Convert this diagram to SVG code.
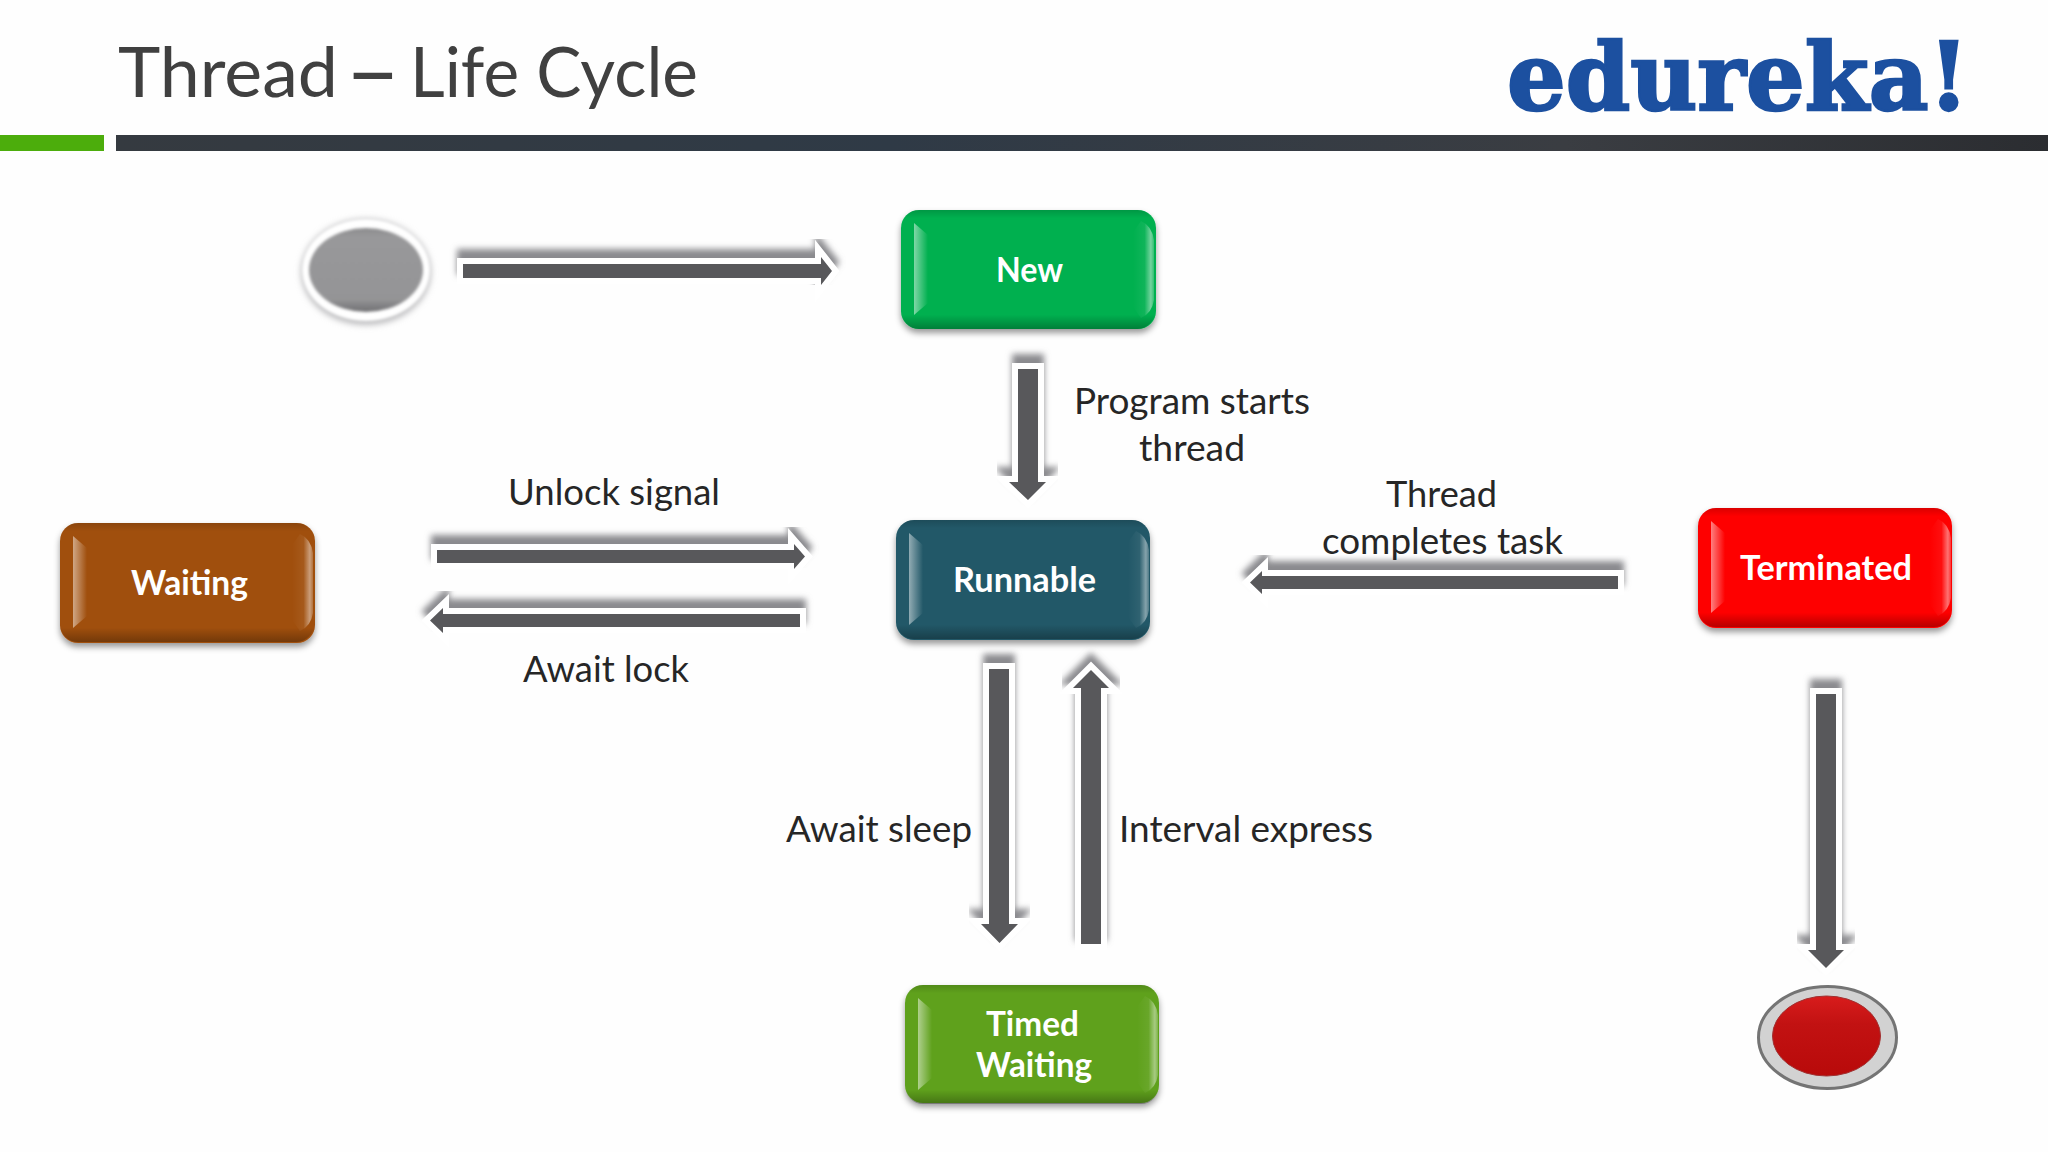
<svg xmlns="http://www.w3.org/2000/svg" width="2048" height="1152" viewBox="0 0 2048 1152">
<style>
.lbl{font-family:"Lato","Liberation Sans",sans-serif;font-size:36px;fill:#262626}
.nd{font-family:"Lato","Liberation Sans",sans-serif;font-size:34px;font-weight:700;fill:#fff}
.logo{font-family:"DejaVu Serif","Liberation Serif",serif;font-weight:700;font-size:94px;fill:#1c50a0;stroke:#1c50a0;stroke-width:2.500px}
.core{fill:#58585b}
.halo{fill:#fff;stroke:#fff;stroke-width:12;stroke-linejoin:miter}
.shade{fill:#8a8a8e;stroke:#8a8a8e;stroke-width:12;stroke-linejoin:miter;filter:url(#blur)}
.box{stroke:none;filter:url(#drop)}
</style>
<defs>
<filter id="blur" x="-30%" y="-30%" width="160%" height="160%"><feGaussianBlur stdDeviation="3"/></filter>
<filter id="soft" x="-30%" y="-30%" width="160%" height="160%"><feGaussianBlur stdDeviation="1.5"/></filter>
<filter id="softer" x="-30%" y="-30%" width="160%" height="160%"><feGaussianBlur stdDeviation="3"/></filter>
<filter id="drop" x="-10%" y="-10%" width="120%" height="130%"><feDropShadow dx="0" dy="4" stdDeviation="3" flood-color="#000" flood-opacity="0.4"/></filter>
<linearGradient id="barG" x1="0" x2="1" y1="0" y2="0"><stop offset="0" stop-color="#353a40"/><stop offset=".4" stop-color="#2f3a46"/><stop offset=".75" stop-color="#3a3d42"/><stop offset="1" stop-color="#2b2d31"/></linearGradient>
<linearGradient id="hlL" x1="0" x2="1" y1="0" y2="0"><stop offset="0" stop-color="#fff" stop-opacity=".5"/><stop offset="1" stop-color="#fff" stop-opacity="0"/></linearGradient>
<linearGradient id="hlR" x1="0" x2="1" y1="0" y2="0"><stop offset="0" stop-color="#fff" stop-opacity="0"/><stop offset=".55" stop-color="#fff" stop-opacity=".06"/><stop offset=".85" stop-color="#fff" stop-opacity=".45"/><stop offset="1" stop-color="#fff" stop-opacity=".2"/></linearGradient>
<linearGradient id="bev" x1="0" x2="0" y1="0" y2="1"><stop offset="0" stop-color="#000" stop-opacity=".14"/><stop offset=".07" stop-color="#000" stop-opacity="0"/><stop offset=".88" stop-color="#000" stop-opacity="0"/><stop offset="1" stop-color="#000" stop-opacity=".28"/></linearGradient>
<linearGradient id="redS" x1="0" x2="0" y1="0" y2="1"><stop offset="0" stop-color="#d81c1c"/><stop offset=".35" stop-color="#c21212"/><stop offset="1" stop-color="#b80a0a"/></linearGradient>
<linearGradient id="grayS" x1="0" x2="0" y1="0" y2="1"><stop offset="0" stop-color="#8a8a8c"/><stop offset=".1" stop-color="#98989a"/><stop offset=".85" stop-color="#949496"/><stop offset="1" stop-color="#6f6f72"/></linearGradient>
<g id="bevel">
<rect width="254" height="119" rx="18" fill="url(#bev)"/>
<path d="M13 13 L27 25 V93 L13 105 Z" fill="url(#hlL)"/>
<path d="M240 11 Q251 16 253 30 V90 Q251 103 240 108 L232 97 V22 Z" fill="url(#hlR)"/>
</g>
<path id="a1" d="M463 264H821V257L832 271L821 285V278H463Z"/>
<path id="a2" d="M1018 369H1038V482H1046L1028 500L1009 482H1018Z"/>
<path id="a3" d="M437 550H794V544L805 556.500L794 569V563H437Z"/>
<path id="a4" d="M800 614H443V608L430 620.500L443 633V627H800Z"/>
<path id="a5" d="M1618 576H1262V571L1250 582.500L1262 594V589H1618Z"/>
<path id="a6" d="M989 669H1009V924H1018L999.500 943L981 924H989Z"/>
<path id="a7" d="M1081 944V688H1073L1091 670L1109 688H1101V944Z"/>
<path id="a8" d="M1816 694H1836V950H1844L1826 968L1808 950H1816Z"/>
</defs>
<rect width="2048" height="1152" fill="#fefefe"/>
<g id="header">
<text y="97" font-family="Lato,'Liberation Sans',sans-serif" font-size="69" fill="#404040"><tspan x="118" textLength="220" lengthAdjust="spacingAndGlyphs">Thread</tspan> <tspan x="345" dy="8" font-size="96">–</tspan> <tspan x="410" dy="-8" textLength="288" lengthAdjust="spacingAndGlyphs">Life Cycle</tspan></text>
<text class="logo" x="1507" y="110" textLength="462" lengthAdjust="spacingAndGlyphs">edureka!</text>
<rect x="0" y="135" width="104" height="16" fill="#4cad0c"/>
<rect x="116" y="135" width="1932" height="16" fill="url(#barG)"/>
</g>
<g id="connectors">
<g id="arrow-start-new"><use href="#a1" class="shade" y="-9"/><use href="#a1" class="halo"/><use href="#a1" class="core"/></g>
<g id="arrow-new-runnable"><use href="#a2" class="shade" y="-9"/><use href="#a2" class="halo"/><use href="#a2" class="core"/></g>
<g id="arrow-waiting-runnable"><use href="#a3" class="shade" y="-9"/><use href="#a3" class="halo"/><use href="#a3" class="core"/></g>
<g id="arrow-runnable-waiting"><use href="#a4" class="shade" y="-9"/><use href="#a4" class="halo"/><use href="#a4" class="core"/></g>
<g id="arrow-terminated-runnable"><use href="#a5" class="shade" y="-9"/><use href="#a5" class="halo"/><use href="#a5" class="core"/></g>
<g id="arrow-runnable-timed"><use href="#a6" class="shade" y="-9"/><use href="#a6" class="halo"/><use href="#a6" class="core"/></g>
<g id="arrow-timed-runnable"><use href="#a7" class="shade" y="-9"/><use href="#a7" class="halo"/><use href="#a7" class="core"/></g>
<g id="arrow-terminated-end"><use href="#a8" class="shade" y="-9"/><use href="#a8" class="halo"/><use href="#a8" class="core"/></g>
</g>
<g id="labels">
<text class="lbl" x="1074" y="414" textLength="236" lengthAdjust="spacingAndGlyphs">Program starts</text>
<text class="lbl" x="1139" y="461" textLength="106" lengthAdjust="spacingAndGlyphs">thread</text>
<text class="lbl" x="508" y="505" textLength="212" lengthAdjust="spacingAndGlyphs">Unlock signal</text>
<text class="lbl" x="523" y="682" textLength="166" lengthAdjust="spacingAndGlyphs">Await lock</text>
<text class="lbl" x="786" y="842" textLength="186" lengthAdjust="spacingAndGlyphs">Await sleep</text>
<text class="lbl" x="1119" y="842" textLength="254" lengthAdjust="spacingAndGlyphs">Interval express</text>
<text class="lbl" x="1386" y="507" textLength="111" lengthAdjust="spacingAndGlyphs">Thread</text>
<text class="lbl" x="1322" y="554" textLength="241" lengthAdjust="spacingAndGlyphs">completes task</text>
</g>
<g id="node-start">
<ellipse cx="366" cy="272" rx="65" ry="53" fill="#bcbcbe" filter="url(#softer)"/>
<ellipse cx="366" cy="270" rx="64" ry="51" fill="#fff" filter="url(#soft)"/>
<ellipse cx="366" cy="270" rx="57" ry="42" fill="url(#grayS)" filter="url(#soft)"/>
</g>
<g id="node-new">
<rect class="box" x="901" y="210" width="255" height="119" rx="18" fill="#00b050"/>
<use href="#bevel" x="901" y="210"/>
<text class="nd" x="996" y="282" textLength="67" lengthAdjust="spacingAndGlyphs">New</text>
</g>
<g id="node-waiting">
<rect class="box" x="60" y="523" width="255" height="120" rx="18" fill="#a0500c"/>
<use href="#bevel" x="60" y="523"/>
<text class="nd" x="131" y="595" textLength="117" lengthAdjust="spacingAndGlyphs">Waiting</text>
</g>
<g id="node-runnable">
<rect class="box" x="896" y="520" width="254" height="120" rx="18" fill="#215968"/>
<use href="#bevel" x="896" y="520"/>
<text class="nd" x="953" y="592" textLength="143" lengthAdjust="spacingAndGlyphs">Runnable</text>
</g>
<g id="node-terminated">
<rect class="box" x="1698" y="508" width="254" height="120" rx="18" fill="#fe0000"/>
<use href="#bevel" x="1698" y="508"/>
<text class="nd" x="1740" y="580" textLength="172" lengthAdjust="spacingAndGlyphs">Terminated</text>
</g>
<g id="node-timed-waiting">
<rect class="box" x="905" y="985" width="254" height="118" rx="18" fill="#5fa11f"/>
<use href="#bevel" x="905" y="985"/>
<text class="nd" x="986" y="1036" textLength="93" lengthAdjust="spacingAndGlyphs">Timed</text>
<text class="nd" x="976" y="1077" textLength="116" lengthAdjust="spacingAndGlyphs">Waiting</text>
</g>
<g id="node-end">
<ellipse cx="1827.500" cy="1037.500" rx="69" ry="51" fill="#d2d2d2" stroke="#747474" stroke-width="3"/>
<ellipse cx="1826.500" cy="1036" rx="54" ry="40" fill="url(#redS)" stroke="#a03030" stroke-width="1"/>
</g>
</svg>
